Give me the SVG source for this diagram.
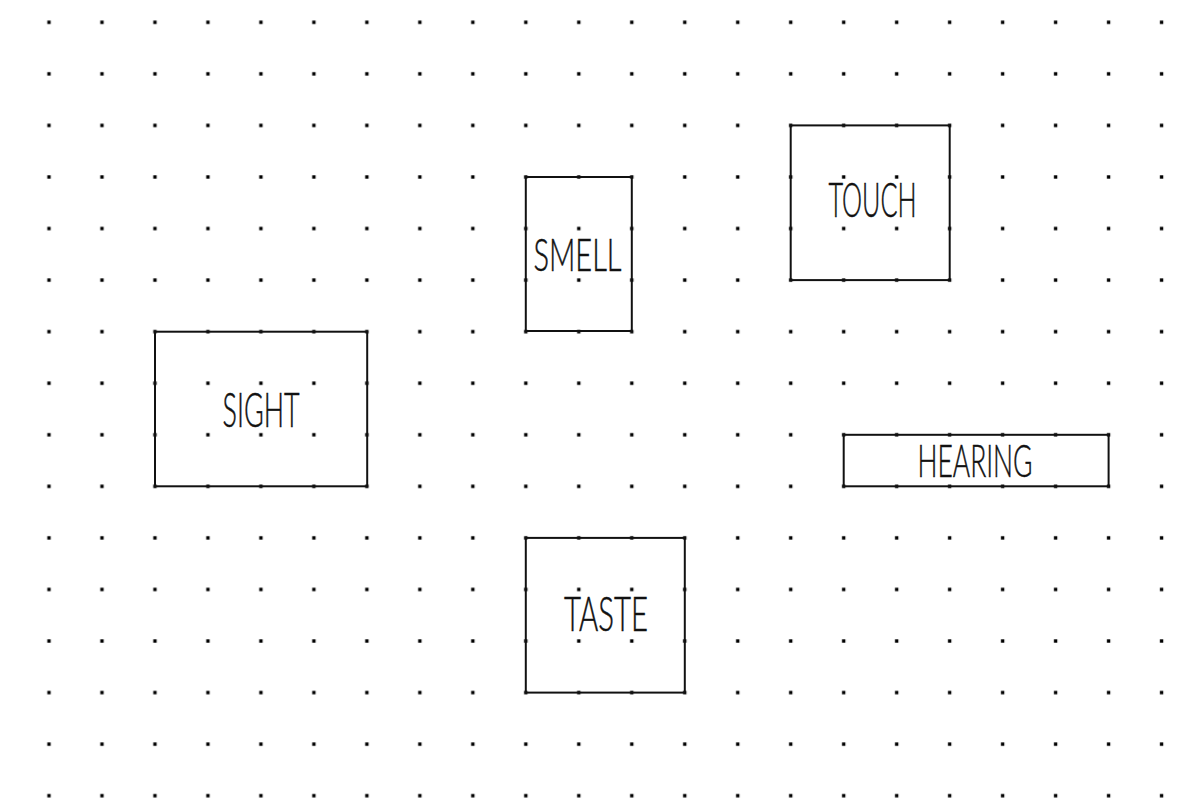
<svg xmlns="http://www.w3.org/2000/svg" width="1183" height="810" viewBox="0 0 1183 810">
<style>
.box{fill:none;stroke:#111;stroke-width:2}
.lbl{font-family:Lato,"Liberation Sans",sans-serif;font-weight:300;fill:#111;stroke:#111;stroke-width:0.5;text-anchor:middle}
</style>
<defs>
<pattern id="dots" patternUnits="userSpaceOnUse" x="22.51" y="-3.48" width="52.98" height="51.56">
<rect x="24.79" y="24.08" width="3.4" height="3.4" fill="#000"/>
</pattern>
</defs>
<rect width="1183" height="810" fill="#fff"/>
<rect id="grid" width="1183" height="810" fill="url(#dots)"/>
<g id="connectors"/>
<g id="sight">
<rect class="box" x="155" y="331.7" width="212.2" height="154.6"/>
<text class="lbl" x="261" y="427" font-size="47" textLength="77" lengthAdjust="spacingAndGlyphs">SIGHT</text>
</g>
<g id="smell">
<rect class="box" x="525.8" y="177" width="106" height="154"/>
<text class="lbl" x="577.5" y="271" font-size="45" textLength="88" lengthAdjust="spacingAndGlyphs">SMELL</text>
</g>
<g id="touch">
<rect class="box" x="790.7" y="125.4" width="159" height="154.7"/>
<text class="lbl" x="872.5" y="217.3" font-size="47" textLength="88" lengthAdjust="spacingAndGlyphs">TOUCH</text>
</g>
<g id="hearing">
<rect class="box" x="843.7" y="434.8" width="264.9" height="51.5"/>
<text class="lbl" x="975" y="477" font-size="46" textLength="115" lengthAdjust="spacingAndGlyphs">HEARING</text>
</g>
<g id="taste">
<rect class="box" x="525.8" y="537.9" width="159" height="154.7"/>
<text class="lbl" x="606" y="631" font-size="47" textLength="84" lengthAdjust="spacingAndGlyphs">TASTE</text>
</g>
</svg>
